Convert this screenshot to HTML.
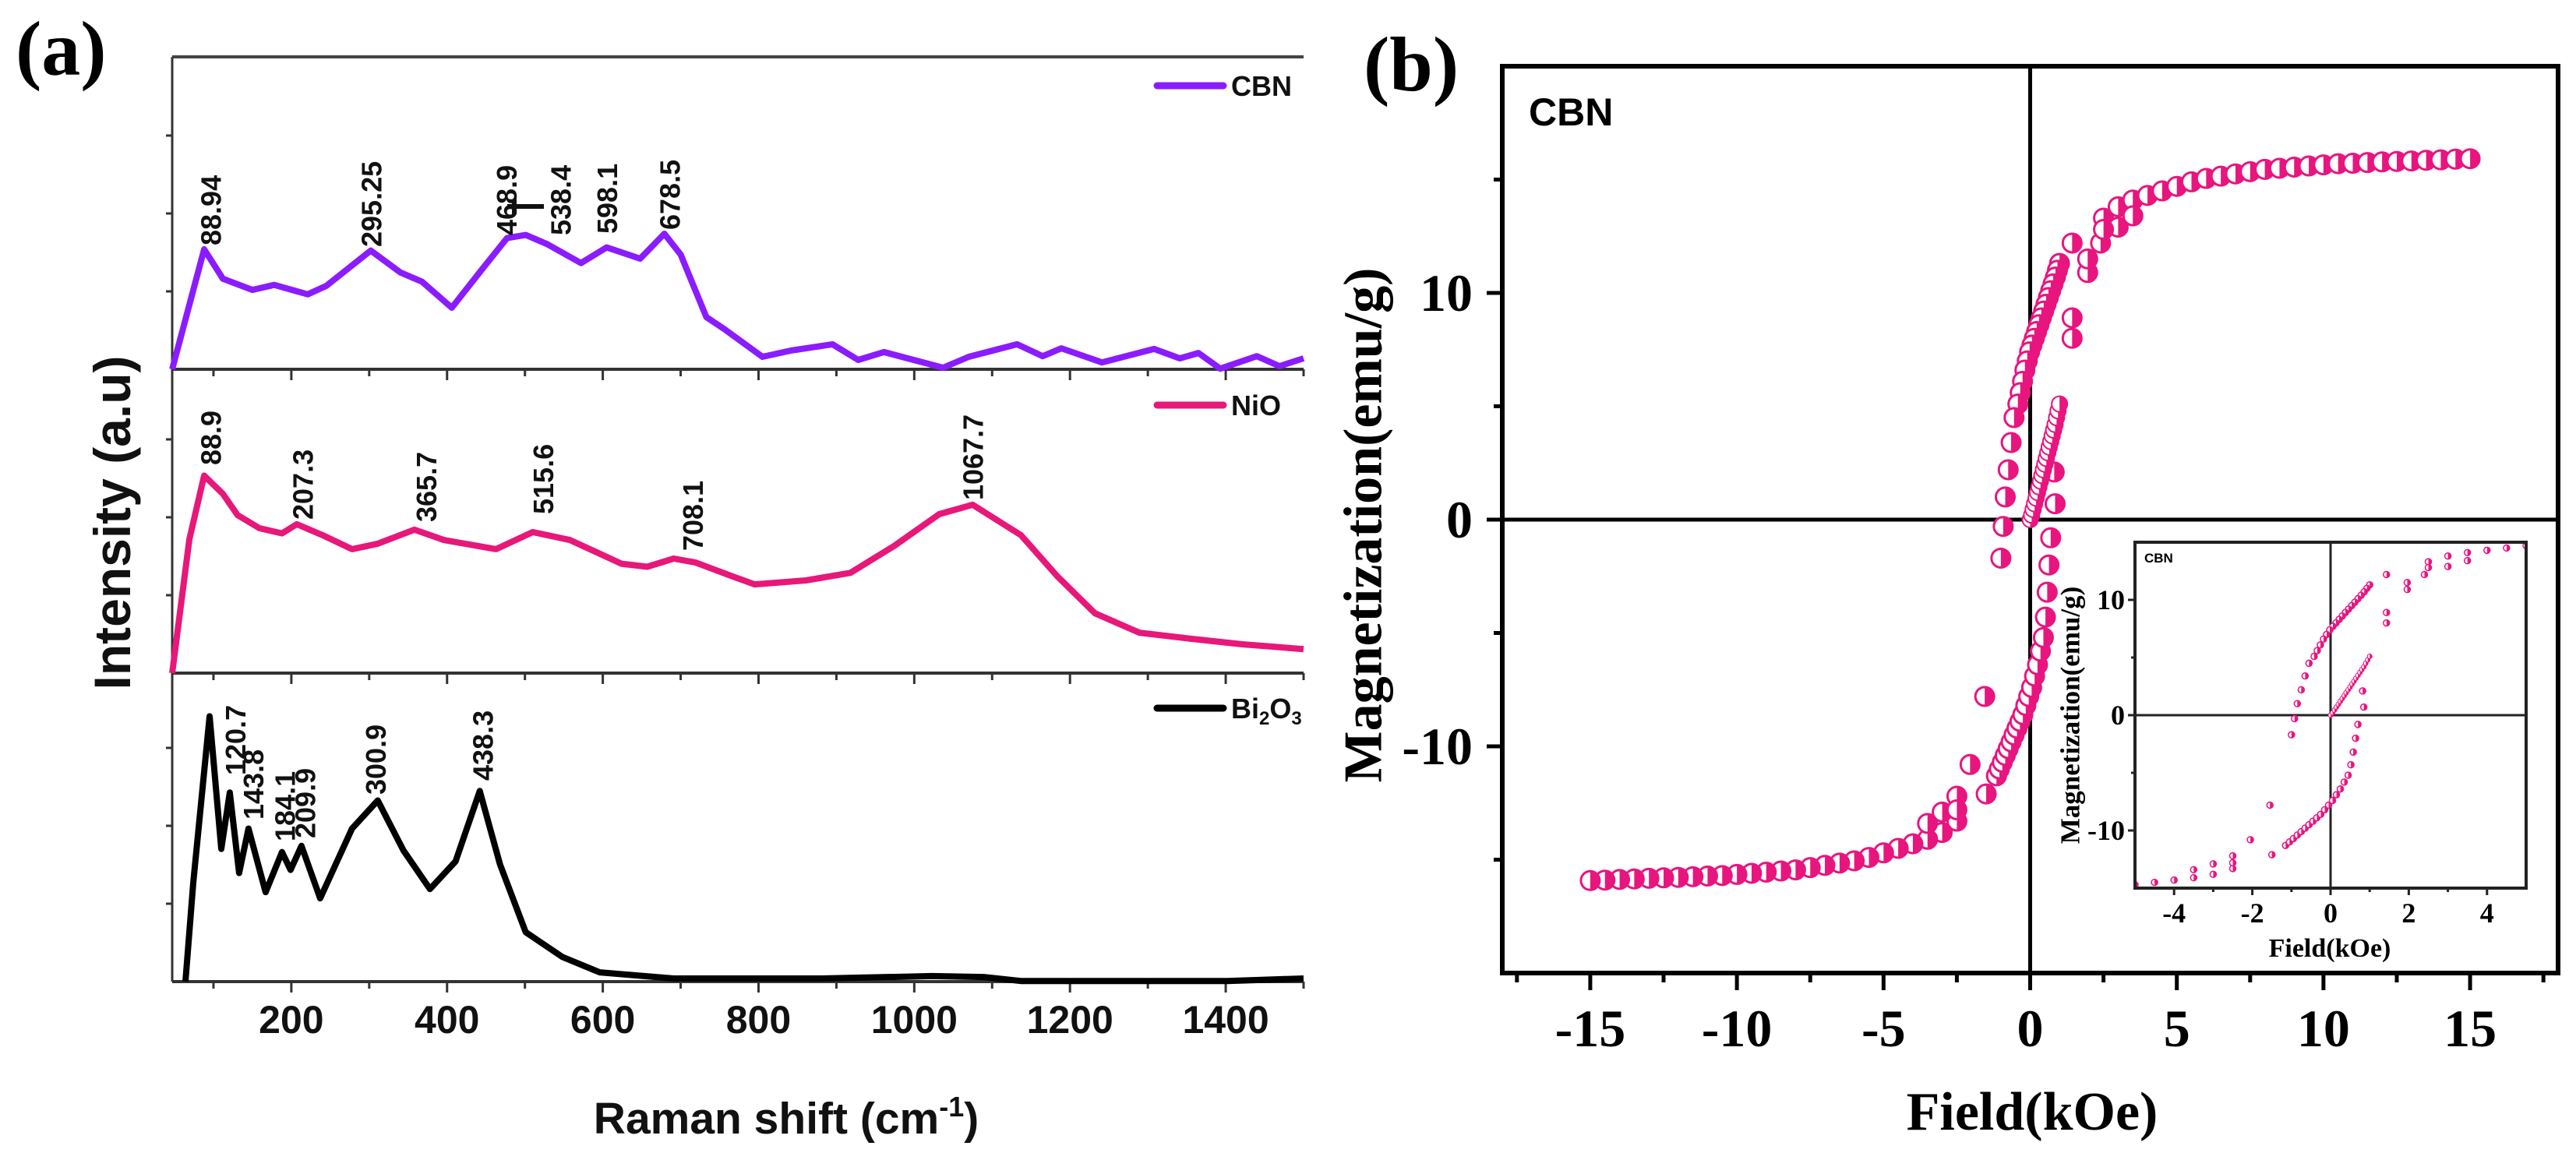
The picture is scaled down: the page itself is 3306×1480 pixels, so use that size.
<!DOCTYPE html>
<html>
<head>
<meta charset="utf-8">
<style>
html,body{margin:0;padding:0;background:#fff;}
svg{display:block;}
.sans{font-family:"Liberation Sans",Arial,sans-serif;font-weight:bold;}
.serif{font-family:"Liberation Serif","Times New Roman",serif;font-weight:bold;}
</style>
</head>
<body>
<svg id="fig" width="3306" height="1480" viewBox="0 0 3306 1480" xmlns="http://www.w3.org/2000/svg">
  <rect x="0" y="0" width="3306" height="1480" fill="#fff"/>
  <text class="serif" x="20" y="96" font-size="100">(a)</text>
  <text class="serif" x="1750" y="116" font-size="100">(b)</text>
  <g id="pa"></g>
  <g id="pb"></g>
</svg>
<script>
// ---------- Panel (a) Raman data ----------
const ramanTicks = [200, 400, 600, 800, 1000, 1200, 1400];
const cbnX = [47,88,112,150,178,221,245,302,340,368,406,444,477,501,529,572,605,648,679,700,733,757,805,842,895,928,961,1037,1070,1132,1165,1189,1241,1308,1341,1365,1393,1440,1469,1500];
const cbnY = [0,38.4,29,25.4,27,24,26.7,38,31,28,19.7,31.7,42,43,40,34,39,35.4,43.4,36.7,16.7,12.7,4,6,8,3,5.5,0.5,4,8,4.2,6.7,2.2,6.5,3.5,5.2,0.2,4.2,1,3.5];
const nioX = [47,69,88,112,131,159,188,207,240,278,311,358,396,463,510,558,624,657,691,719,767,795,861,918,975,1032,1075,1137,1184,1232,1289,1355,1421,1500];
const nioY = [0,44,65,59,52,47.7,46,49,45.4,40.8,42.6,47.2,43.8,40.8,46.4,43.8,36,35,37.7,36.4,31.8,29.2,30.5,33,42,52.3,55.4,45.4,31.8,19.7,13.3,11.3,9.5,7.9];
const biX = [64,74,95,110,121,133,145,167,188,199,213,237,278,311,344,378,411,442,468,501,548,596,691,881,1023,1089,1137,1402,1500];
const biY = [0,32,86,43,61.3,35.2,49.6,29,42,36.2,44,27,49.6,58.7,42.5,30,39,61.8,38,16,8,3,1,1,1.8,1.5,0.2,0.2,1];
const cbnLabels = ["88.94","295.25","468.9","538.4","598.1","678.5"];
const cbnLabelX = [88.94,295.25,468.9,538.4,598.1,678.5];
const nioLabels = ["88.9","207.3","365.7","515.6","708.1","1067.7"];
const nioLabelX = [88.9,207.3,365.7,515.6,708.1,1067.7];
const biLabels = ["120.7","143.8","184.1","209.9","300.9","438.3"];
const biLabelX = [120.7,143.8,184.1,209.9,300.9,438.3];

// ---------- Panel (b) hysteresis data ----------
const fieldTicks = [-15,-10,-5,0,5,10,15];
const magTicks = [-10,0,10];
const insetFieldTicks = [-4,-2,0,2,4];
const insetMagTicks = [-10,0,10];
const virginH = [0,0.05,0.1,0.15,0.2,0.25,0.3,0.35,0.4,0.45,0.5,0.55,0.6,0.65,0.7,0.75,0.8,0.85,0.9,0.95,1.0];
const virginM = [0,0.2,0.45,0.7,0.95,1.2,1.45,1.7,1.95,2.2,2.45,2.7,2.95,3.2,3.45,3.7,3.95,4.2,4.5,4.8,5.1];
const upperH = [1.0,0.93,0.86,0.78,0.7,0.62,0.54,0.46,0.38,0.3,0.22,0.14,0.06,-0.02,-0.1,-0.18,-0.26,-0.34,-0.42,-0.55,-0.65,-0.75,-0.85,-0.92,-1.0,-1.55,-2.05,-1.5,-2.5,-3.0,-3.5,-2.5];
const upperM = [11.3,11.0,10.7,10.4,10.1,9.8,9.5,9.2,8.9,8.6,8.3,8.0,7.7,7.4,7.0,6.6,6.1,5.6,5.1,4.5,3.4,2.2,1.0,-0.3,-1.7,-7.8,-10.8,-12.1,-12.2,-12.9,-13.4,-12.8];
const lowerH = [-1.15,-1.05,-0.95,-0.85,-0.75,-0.65,-0.55,-0.45,-0.35,-0.25,-0.15,-0.05,0.05,0.15,0.25,0.35,0.45,0.52,0.58,0.64,0.7,0.85,0.82,1.43,1.43,1.96,1.96,1.43,2.4,3.0,3.5,2.5];
const lowerM = [-11.3,-11.0,-10.7,-10.4,-10.1,-9.8,-9.5,-9.2,-8.9,-8.6,-8.2,-7.8,-7.4,-6.9,-6.4,-5.8,-5.2,-4.3,-3.2,-2.0,-0.8,0.7,2.1,8.0,8.9,10.9,11.5,12.2,12.2,12.9,13.4,12.8];
const tailH = [2.5,3,3.5,4,4.5,5,5.5,6,6.5,7,7.5,8,8.5,9,9.5,10,10.5,11,11.5,12,12.5,13,13.5,14,14.5,15];
const tailPosM = [13.3,13.8,14.1,14.3,14.5,14.7,14.9,15.05,15.15,15.25,15.35,15.45,15.5,15.55,15.6,15.65,15.7,15.72,15.75,15.78,15.8,15.82,15.85,15.87,15.9,15.92];
const tailNegM = [-13.3,-13.8,-14.1,-14.3,-14.5,-14.7,-14.9,-15.05,-15.15,-15.25,-15.35,-15.45,-15.5,-15.55,-15.6,-15.65,-15.7,-15.72,-15.75,-15.78,-15.8,-15.82,-15.85,-15.87,-15.9,-15.92];

const NS = "http://www.w3.org/2000/svg";
function mk(tag, attrs, parent){
  const e = document.createElementNS(NS, tag);
  for (const k in attrs) e.setAttribute(k, attrs[k]);
  parent.appendChild(e);
  return e;
}

// ===== Panel a =====
const pa = document.getElementById('pa');
const AX0 = 221, AX1 = 1673, XMIN = 47, XMAX = 1500;
function ax(v){ return AX0 + (v - XMIN) / (XMAX - XMIN) * (AX1 - AX0); }
const subs = [
  {top:73, bot:474, xs:cbnX, ys:cbnY, color:'#8a1cff', name:'CBN', labs:cbnLabels, labX:cbnLabelX, labY:[315,317,302,302,300,295], legY:110},
  {top:474, bot:864, xs:nioX, ys:nioY, color:'#e8177a', name:'NiO', labs:nioLabels, labX:nioLabelX, labY:[597,667,670,660,707,642], legY:520},
  {top:864, bot:1260, xs:biX, ys:biY, color:'#000', name:'Bi2O3', labs:biLabels, labX:biLabelX, labY:[995,1052,1080,1076,1020,1002], legY:909}
];
subs.forEach((s, i) => {
  const ay = v => s.bot - v / 100 * (s.bot - s.top);
  const l = mk('line', {x1:AX0, y1:s.top, x2:AX0, y2:s.bot, stroke:'#333', 'stroke-width':3}, pa);
  
  
  for (let k = 1; k <= 3; k++) {
    const t = mk('line', {x1:AX0-8, x2:AX0, y1:s.bot - k*100, y2:s.bot - k*100, stroke:'#333', 'stroke-width':3}, pa);
    
    
  }
  const b = mk('line', {x1:AX0, y1:s.bot, x2:AX1, y2:s.bot, stroke:'#333', 'stroke-width':4}, pa);
  
  
  for (let v = 100; v <= 1500; v += 100) {
    const t = mk('line', {x1:ax(v), x2:ax(v), y1:s.bot, y2:s.bot + (v % 200 === 0 ? 14 : 9), stroke:'#333', 'stroke-width':3}, pa);
    
    
  }
  let d = '';
  s.xs.forEach((x, j) => { d += (j ? 'L' : 'M') + ax(x).toFixed(1) + ',' + ay(s.ys[j]).toFixed(1); });
  const p = mk('path', {d:d, fill:'none', stroke:s.color, 'stroke-width':8, 'stroke-linejoin':'round'}, pa);
  
  
  s.labs.forEach((txt, j) => {
    const x = ax(s.labX[j]) + 8;
    const y = s.labY[j];
    const t = mk('text', {transform:'translate(' + x + ',' + y + ') rotate(-90)', 'font-size':36, 'dominant-baseline':'central', class:'sans', fill:'#111'}, pa);
    t.textContent = txt;
    
    
  });
  const lg = mk('g', {}, pa);
  
  
  mk('line', {x1:1485, x2:1570, y1:s.legY, y2:s.legY, stroke:s.color, 'stroke-width':9, 'stroke-linecap':'round'}, lg);
  const lt = mk('text', {x:1580, y:s.legY + 13, 'font-size':36, class:'sans', fill:'#111'}, lg);
  if (s.name === 'Bi2O3') {
    lt.innerHTML = 'Bi<tspan font-size="24" dy="8">2</tspan><tspan dy="-8">O</tspan><tspan font-size="24" dy="8">3</tspan>';
  } else {
    lt.textContent = s.name;
  }
});
const topL = mk('line', {x1:AX0, y1:73, x2:AX1, y2:73, stroke:'#444', 'stroke-width':4}, pa);


const br = mk('path', {d:'M651,265 L698,265 M660,256 L660,275', stroke:'#111', 'stroke-width':6, fill:'none'}, pa);


ramanTicks.forEach(v => {
  const t = mk('text', {x:ax(v), y:1326, 'text-anchor':'middle', 'font-size':50, class:'sans', fill:'#111'}, pa);
  t.textContent = v;
  
  
});
const xt = mk('text', {x:1009, y:1455, 'text-anchor':'middle', 'font-size':57, class:'sans', fill:'#111'}, pa);
xt.innerHTML = 'Raman shift (cm<tspan font-size="36" dy="-22">-1</tspan><tspan dy="22">)</tspan>';


const yt = mk('text', {transform:'translate(144,671) rotate(-90)', 'text-anchor':'middle', 'dominant-baseline':'central', 'font-size':66, class:'sans', fill:'#111'}, pa);
yt.textContent = 'Intensity (a.u)';



// ===== Panel b =====
const pb = document.getElementById('pb');
const PINK = '#e8157f';
function makeAxes(L, R, T, B, xmin, xmax, ymin, ymax){
  return {
    x: v => L + (v - xmin) / (xmax - xmin) * (R - L),
    y: v => B - (v - ymin) / (ymax - ymin) * (B - T)
  };
}
function marker(g, cx, cy, r, sw){
  cx = +cx; cy = +cy;
  mk('circle', {cx:cx, cy:cy, r:r, fill:'#fff', stroke:PINK, 'stroke-width':sw}, g);
  mk('path', {d:'M' + cx + ',' + (cy - r) + ' A' + r + ',' + r + ' 0 0 1 ' + cx + ',' + (cy + r) + ' Z', fill:PINK}, g);
}
function drawSeries(g, A, hs, ms, r, sw, name){
  hs.forEach((h, i) => {
    const m = mk('g', {}, g);
    
    
    marker(m, A.x(h), A.y(ms[i]), r, sw);
  });
}
const M = makeAxes(1928, 3283, 85, 1249, -18, 18, -20, 20);
const frame = mk('rect', {x:1928, y:85, width:1355, height:1164, fill:'none', stroke:'#000', 'stroke-width':6}, pb);


const zx = mk('line', {x1:M.x(0), x2:M.x(0), y1:85, y2:1249, stroke:'#000', 'stroke-width':5}, pb);


const zy = mk('line', {x1:1928, x2:3283, y1:M.y(0), y2:M.y(0), stroke:'#000', 'stroke-width':5}, pb);


for (let v = -17.5; v <= 17.5; v += 2.5) {
  const major = Math.abs(v % 5) < 1e-6;
  const t = mk('line', {x1:M.x(v), x2:M.x(v), y1:1249, y2:1249 + (major ? 22 : 12), stroke:'#000', 'stroke-width':5}, pb);
  
  
}
for (let v = -15; v <= 15; v += 5) {
  const major = v % 10 === 0;
  const t = mk('line', {x1:1928 - (major ? 20 : 11), x2:1928, y1:M.y(v), y2:M.y(v), stroke:'#000', 'stroke-width':5}, pb);
  
  
}
fieldTicks.forEach(v => {
  const t = mk('text', {x:M.x(v), y:1343, 'text-anchor':'middle', 'font-size':68, class:'serif'}, pb);
  t.textContent = v;
  
  
});
magTicks.forEach(v => {
  const t = mk('text', {x:1890, y:M.y(v) + 23, 'text-anchor':'end', 'font-size':68, class:'serif'}, pb);
  t.textContent = v;
  
  
});
const bx = mk('text', {x:2608, y:1450, 'text-anchor':'middle', 'font-size':70, class:'serif'}, pb);
bx.textContent = 'Field(kOe)';


const by = mk('text', {transform:'translate(1750,674) rotate(-90)', 'text-anchor':'middle', 'dominant-baseline':'central', 'font-size':70, class:'serif'}, pb);
by.textContent = 'Magnetization(emu/g)';


const cbn = mk('text', {x:1962, y:161, 'font-size':50, class:'sans'}, pb);
cbn.textContent = 'CBN';


const mg = mk('g', {}, pb);


drawSeries(mg, M, tailH.map(h => -h), tailNegM, 12, 3, 'neg-tail');
drawSeries(mg, M, tailH, tailPosM, 12, 3, 'pos-tail');
drawSeries(mg, M, upperH, upperM, 12, 3, 'upper-branch');
drawSeries(mg, M, lowerH, lowerM, 12, 3, 'lower-branch');
drawSeries(mg, M, virginH, virginM, 10, 2, 'virgin-curve');

// inset
const IL = 2740, IR = 3242, IT = 696, IB = 1140;
const I = makeAxes(IL, IR, IT, IB, -5, 5, -15, 15);
const ig = mk('g', {}, pb);


mk('rect', {x:IL, y:IT, width:IR - IL, height:IB - IT, fill:'#fff', stroke:'none'}, ig);
const cp = mk('clipPath', {id:'insetClip'}, ig);
mk('rect', {x:IL, y:IT, width:IR - IL, height:IB - IT}, cp);
mk('line', {x1:I.x(0), x2:I.x(0), y1:IT, y2:IB, stroke:'#222', 'stroke-width':3}, ig);
mk('line', {x1:IL, x2:IR, y1:I.y(0), y2:I.y(0), stroke:'#222', 'stroke-width':3}, ig);
const idots = mk('g', {'clip-path':'url(#insetClip)'}, ig);


drawSeries(idots, I, tailH.map(h => -h), tailNegM, 4, 1.5, 'inset-neg-tail');
drawSeries(idots, I, tailH, tailPosM, 4, 1.5, 'inset-pos-tail');
drawSeries(idots, I, upperH, upperM, 4, 1.5, 'inset-upper');
drawSeries(idots, I, lowerH, lowerM, 4, 1.5, 'inset-lower');
drawSeries(idots, I, virginH, virginM, 3, 1, 'inset-virgin');
mk('rect', {x:IL, y:IT, width:IR - IL, height:IB - IT, fill:'none', stroke:'#222', 'stroke-width':4}, ig);
for (let v = -4; v <= 4; v += 1) {
  const t = mk('line', {x1:I.x(v), x2:I.x(v), y1:IB, y2:IB + (v % 2 === 0 ? 9 : 5), stroke:'#222', 'stroke-width':3}, ig);
  
  
}
for (let v = -10; v <= 10; v += 5) {
  const t = mk('line', {x1:IL - (v % 10 === 0 ? 9 : 5), x2:IL, y1:I.y(v), y2:I.y(v), stroke:'#222', 'stroke-width':3}, ig);
  
  
}
insetFieldTicks.forEach(v => {
  const t = mk('text', {x:I.x(v), y:1184, 'text-anchor':'middle', 'font-size':36, class:'serif'}, ig);
  t.textContent = v;
  
  
});
insetMagTicks.forEach(v => {
  const t = mk('text', {x:2727, y:I.y(v) + 12, 'text-anchor':'end', 'font-size':36, class:'serif'}, ig);
  t.textContent = v;
  
  
});
const ixt = mk('text', {x:2990, y:1228, 'text-anchor':'middle', 'font-size':34, class:'serif'}, ig);
ixt.textContent = 'Field(kOe)';


const iyt = mk('text', {transform:'translate(2657,918) rotate(-90)', 'text-anchor':'middle', 'dominant-baseline':'central', 'font-size':35, class:'serif'}, ig);
iyt.textContent = 'Magnetization(emu/g)';


const icb = mk('text', {x:2752, y:722, 'font-size':17, class:'sans'}, ig);
icb.textContent = 'CBN';


</script>
</body>
</html>
